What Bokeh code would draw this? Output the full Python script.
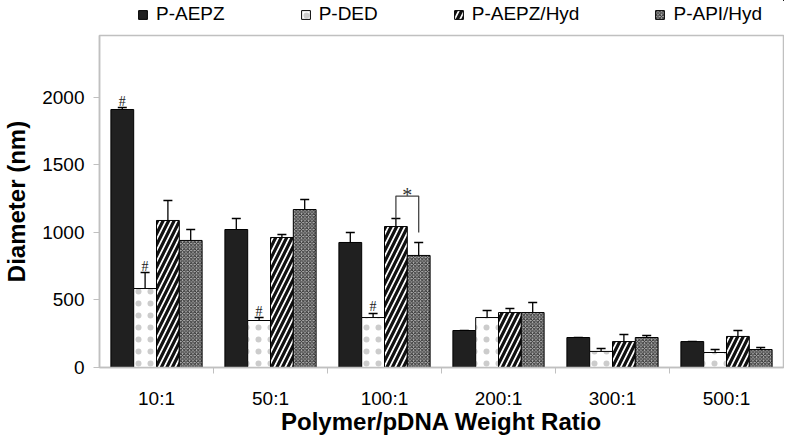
from bokeh.plotting import figure
from bokeh.layouts import column
from bokeh.models import (ColumnDataSource, Range1d, FixedTicker, Whisker, TeeHead,
                          Legend, LegendItem)
from bokeh.transform import dodge
from bokeh.core.properties import value
from bokeh.embed import file_html
from bokeh.resources import INLINE

# ---------------- data ----------------
categories = ["10:1", "50:1", "100:1", "200:1", "300:1", "500:1"]
series_names = ["P-AEPZ", "P-DED", "P-AEPZ/Hyd", "P-API/Hyd"]

aepz = [1911, 1022, 926, 274, 222, 192]
aepz_err = [14, 82, 74, 0, 0, 0]
ded = [585, 348, 370, 370, 119, 111]
ded_err = [118, 22, 30, 52, 22, 22]
aepz_hyd = [1089, 963, 1044, 407, 192, 230]
aepz_hyd_err = [148, 22, 60, 30, 52, 44]
api_hyd = [941, 1170, 830, 407, 222, 133]
api_hyd_err = [81, 74, 96, 74, 15, 15]

# significance marks "#"
hash_series = ["P-AEPZ", "P-DED", "P-DED", "P-DED"]
hash_categories = ["10:1", "10:1", "50:1", "100:1"]

# bracket "*" between two series in one category
sig_category = "100:1"
sig_pair = ["P-AEPZ/Hyd", "P-API/Hyd"]
sig_level = 1270
sig_leg_ends = [1104, 1000]

y_ticks = [0, 500, 1000, 1500, 2000]
y_max = 2459

# ---------------- styles ----------------
FONT = "Liberation Sans"
SERIF = "Liberation Serif"
GRAY = "#c0c0c0"

styles = [
    dict(fill_color="#202020"),
    dict(fill_color="white", hatch_pattern="dot", hatch_scale=12,
         hatch_color="#cccccc"),
    dict(fill_color="white", hatch_pattern="right_diagonal_line", hatch_scale=11,
         hatch_weight=3.2, hatch_color="#111111"),
    dict(fill_color="#b4b4b4", hatch_pattern="diagonal_cross", hatch_scale=3.5,
         hatch_weight=1.0, hatch_color="#303030"),
]

values = [aepz, ded, aepz_hyd, api_hyd]
errors = [aepz_err, ded_err, aepz_hyd_err, api_hyd_err]
offsets = [-0.3, -0.1, 0.1, 0.3]
keys = ["s0", "s1", "s2", "s3"]

data = dict(xc=[i + 0.5 for i in range(len(categories))])
for k, v, e in zip(keys, values, errors):
    data[k] = v
    data[k + "_hi"] = [a + b for a, b in zip(v, e)]
src = ColumnDataSource(data)

# ---------------- main figure ----------------
p = figure(width=784, height=410, output_backend="svg", toolbar_location=None,
           x_range=Range1d(0, len(categories)), y_range=Range1d(0, y_max),
           min_border_left=92, min_border_right=1, min_border_top=2,
           min_border_bottom=76)
p.xgrid.visible = False
p.ygrid.visible = False
p.outline_line_color = GRAY
p.outline_line_width = 1.5
p.background_fill_color = "white"

for k, off, st in zip(keys, offsets, styles):
    p.vbar(x=dodge("xc", off), top=k, bottom=0, width=0.2, source=src,
           line_color="black", line_width=1, **st)
    w = Whisker(source=src, base=dodge("xc", off), lower=k, upper=k + "_hi",
                dimension="height", line_color="black", line_width=1.3,
                lower_head=None,
                upper_head=TeeHead(size=9, line_color="black", line_width=1.5))
    p.add_layout(w)

# "#" marks
hx, hy = [], []
for s, c in zip(hash_series, hash_categories):
    si = series_names.index(s)
    ci = categories.index(c)
    hx.append(ci + 0.5 + offsets[si])
    hy.append(values[si][ci] + errors[si][ci])
p.text(x=hx, y=hy, text=["#"] * len(hx), text_font=value(SERIF),
       text_font_size="14px", text_align="center", text_baseline="bottom",
       text_color="#222222", y_offset=1)

# bracket with "*"
ci = categories.index(sig_category)
bx = [ci + 0.5 + offsets[series_names.index(s)] for s in sig_pair]
p.line(x=[bx[0], bx[0], bx[1], bx[1]],
       y=[sig_leg_ends[0], sig_level, sig_level, sig_leg_ends[1]],
       line_color="#444444", line_width=1.3)
p.text(x=[(bx[0] + bx[1]) / 2], y=[sig_level], text=["*"], text_font=value(SERIF),
       text_font_size="20px", text_align="center", text_baseline="alphabetic",
       text_color="#333333", y_offset=-1)

# axes
p.yaxis.ticker = FixedTicker(ticks=y_ticks)
p.yaxis.axis_line_color = GRAY
p.yaxis.axis_line_width = 1.5
p.yaxis.major_tick_line_color = GRAY
p.yaxis.major_tick_out = 6
p.yaxis.major_tick_in = 0
p.yaxis.minor_tick_line_color = None
p.yaxis.major_label_text_font = FONT
p.yaxis.major_label_text_font_size = "19px"
p.yaxis.major_label_text_color = "black"
p.yaxis.major_label_standoff = 9
p.yaxis.axis_label = "Diameter (nm)"
p.yaxis.axis_label_text_font = FONT
p.yaxis.axis_label_text_font_style = "bold"
p.yaxis.axis_label_text_font_size = "24px"
p.yaxis.axis_label_text_color = "black"
p.yaxis.axis_label_standoff = 9

p.xaxis.ticker = FixedTicker(ticks=[i + 0.5 for i in range(len(categories))],
                             minor_ticks=list(range(1, len(categories))))
p.xaxis.major_label_overrides = {i + 0.5: c for i, c in enumerate(categories)}
p.xaxis.axis_line_color = GRAY
p.xaxis.axis_line_width = 1.5
p.xaxis.major_tick_line_color = None
p.xaxis.major_tick_out = 6
p.xaxis.minor_tick_line_color = GRAY
p.xaxis.minor_tick_out = 6
p.xaxis.minor_tick_in = 0
p.xaxis.major_label_text_font = FONT
p.xaxis.major_label_text_font_size = "19px"
p.xaxis.major_label_text_color = "black"
p.xaxis.major_label_standoff = 14
p.xaxis.axis_label = "Polymer/pDNA Weight Ratio"
p.xaxis.axis_label_text_font = FONT
p.xaxis.axis_label_text_font_style = "bold"
p.xaxis.axis_label_text_font_size = "24px"
p.xaxis.axis_label_text_color = "black"
p.xaxis.axis_label_standoff = -4

# ---------------- legend strip ----------------
lf = figure(width=784, height=33, output_backend="svg", toolbar_location=None,
            x_range=Range1d(-100, -94), y_range=Range1d(-2, -1),
            x_axis_type=None, y_axis_type=None,
            min_border=0, min_border_left=0, min_border_right=0,
            min_border_top=0, min_border_bottom=0)
lf.xgrid.visible = False
lf.ygrid.visible = False
lf.outline_line_color = None
items = []
for k, name, off, st in zip(keys, series_names, offsets, styles):
    r = lf.vbar(x=dodge("xc", off), top=k, bottom=0, width=0.2, source=src,
                line_color="black", line_width=1, **st)
    items.append(LegendItem(label=name, renderers=[r]))
lg = Legend(items=items, orientation="horizontal", location=(38, 8),
            padding=0, margin=0, spacing=75, glyph_width=11, glyph_height=11,
            label_standoff=8, label_text_font=FONT, label_text_font_size="19px",
            label_text_color="black", border_line_color=None,
            background_fill_alpha=0)
lf.add_layout(lg)

layout = column(lf, p, spacing=0)
open("out.html", "w").write(file_html(layout, INLINE))
